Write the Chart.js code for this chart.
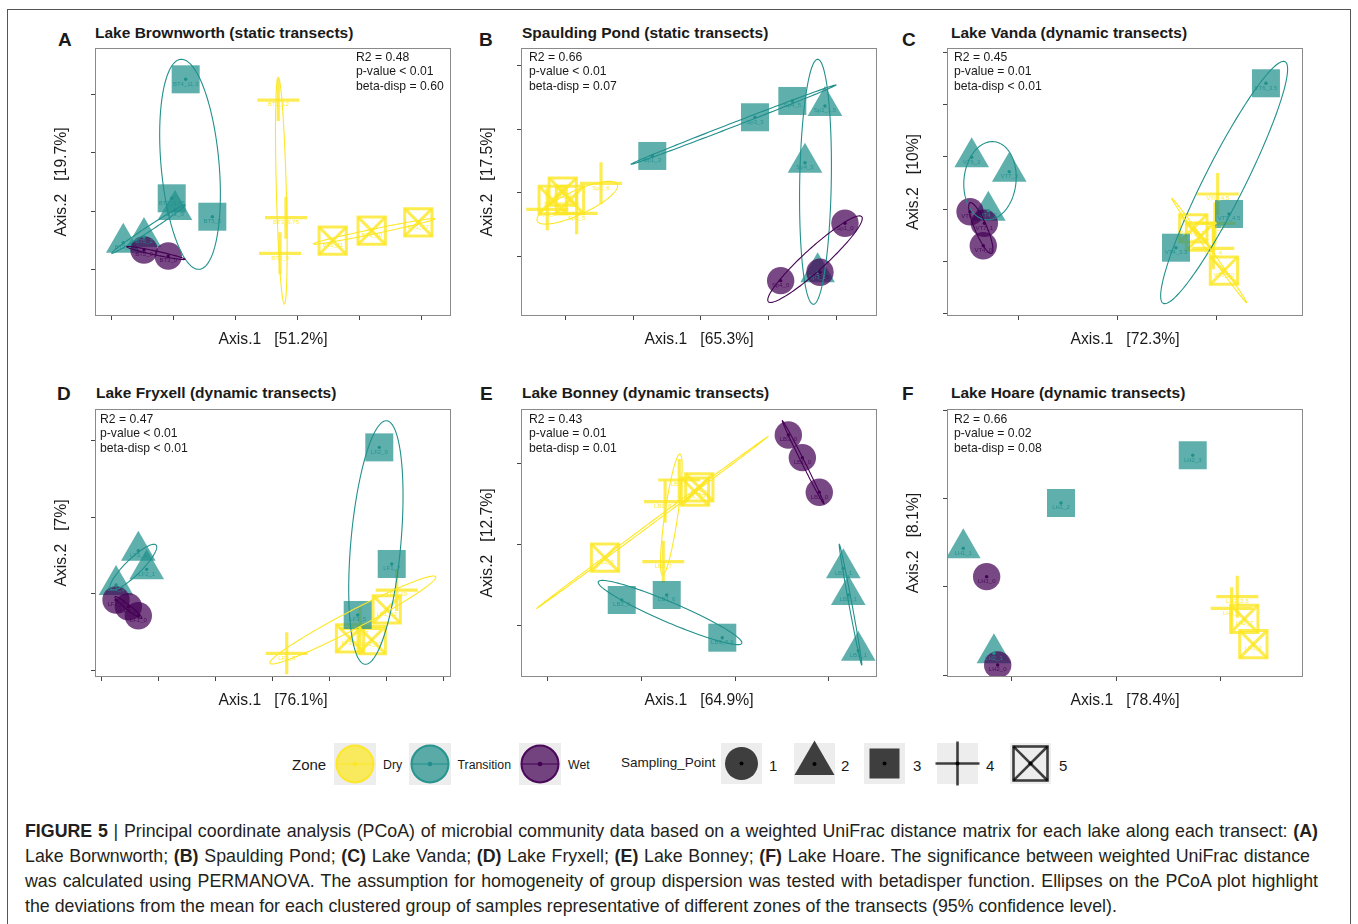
<!DOCTYPE html>
<html lang="en">
<head>
<meta charset="UTF-8">
<title>PCoA of microbial communities by lake</title>
<script src="https://cdn.jsdelivr.net/npm/chart.js@4.4.1/dist/chart.umd.min.js"></script>
<style>
  body {
    margin: 0;
    width: 1358px;
    height: 924px;
    position: relative;
    overflow: hidden;
    background: #fff;
    color: #1a1a1a;
    font-family: "Liberation Sans", Arial, Helvetica, sans-serif;
  }
  .frame { position: absolute; left: 7px; top: 9px; width: 1342px; height: 960px; border: 1px solid #555; }
  .abs { position: absolute; line-height: 1; white-space: nowrap; transform: translateY(-50%); }
  .letter { font-weight: bold; font-size: 19px; }
  .title { font-weight: bold; font-size: 15.5px; }
  .stats { position: absolute; font-size: 12.2px; line-height: 14.4px; white-space: nowrap; }
  canvas.panel { position: absolute; width: 416px; height: 308px; }
  svg.key { position: absolute; overflow: visible; }
  .cap {
    position: absolute; left: 25px; line-height: 1; font-size: 17.8px; color: #231f20;
    transform: translateY(-50%); text-align: justify; text-align-last: justify;
  }
  .cap.last { text-align-last: left; }
</style>
</head>
<body>
<div class="frame"></div>

<!-- panel headings -->
<div class="abs letter" style="left:58px; top:38.5px">A</div>
<div class="abs title" style="left:95px; top:33px">Lake Brownworth (static transects)</div>
<div class="abs letter" style="left:479px; top:38.5px">B</div>
<div class="abs title" style="left:522px; top:33px">Spaulding Pond (static transects)</div>
<div class="abs letter" style="left:902px; top:38.5px">C</div>
<div class="abs title" style="left:951px; top:33px">Lake Vanda (dynamic transects)</div>
<div class="abs letter" style="left:57px; top:393px">D</div>
<div class="abs title" style="left:96px; top:393px">Lake Fryxell (dynamic transects)</div>
<div class="abs letter" style="left:480px; top:393px">E</div>
<div class="abs title" style="left:522px; top:393px">Lake Bonney (dynamic transects)</div>
<div class="abs letter" style="left:902px; top:393px">F</div>
<div class="abs title" style="left:951px; top:393px">Lake Hoare (dynamic transects)</div>

<canvas class="panel" id="cA" width="416" height="308" style="left:40px; top:43px"></canvas>
<canvas class="panel" id="cB" width="416" height="308" style="left:466px; top:43px"></canvas>
<canvas class="panel" id="cC" width="416" height="308" style="left:892px; top:43px"></canvas>
<canvas class="panel" id="cD" width="416" height="308" style="left:40px; top:404px"></canvas>
<canvas class="panel" id="cE" width="416" height="308" style="left:466px; top:404px"></canvas>
<canvas class="panel" id="cF" width="416" height="308" style="left:892px; top:404px"></canvas>

<div class="stats" id="sA" style="left:356px; top:50px"></div>
<div class="stats" id="sB" style="left:529px; top:50px"></div>
<div class="stats" id="sC" style="left:954px; top:50px"></div>
<div class="stats" id="sD" style="left:100px; top:412px"></div>
<div class="stats" id="sE" style="left:529px; top:412px"></div>
<div class="stats" id="sF" style="left:954px; top:412px"></div>

<!-- legend -->
<div class="abs" style="left:292px; top:764px; font-size:15px">Zone</div>
<div id="zoneKeys"></div>
<div class="abs" style="left:621px; top:763px; font-size:13.5px">Sampling_Point</div>
<div id="shapeKeys"></div>

<!-- caption -->
<div class="cap" style="top:832px; width:1293px"><b>FIGURE 5</b> | Principal coordinate analysis (PCoA) of microbial community data based on a weighted UniFrac distance matrix for each lake along each transect: <b>(A)</b></div>
<div class="cap" style="top:857px; width:1285px">Lake Borwnworth; <b>(B)</b> Spaulding Pond; <b>(C)</b> Lake Vanda; <b>(D)</b> Lake Fryxell; <b>(E)</b> Lake Bonney; <b>(F)</b> Lake Hoare. The significance between weighted UniFrac distance</div>
<div class="cap" style="top:882px; width:1293px">was calculated using PERMANOVA. The assumption for homogeneity of group dispersion was tested with betadisper function. Ellipses on the PCoA plot highlight</div>
<div class="cap last" style="top:907px; width:1293px">the deviations from the mean for each clustered group of samples representative of different zones of the transects (95% confidence level).</div>

<script>
// ---------- shared ----------
const zoneNames = ['Dry', 'Transition', 'Wet'];
const samplingPoints = ['1', '2', '3', '4', '5'];
// sampling point 1..5 -> zone
const pointZone = ['wet', 'transition', 'transition', 'dry', 'dry'];
const ZONE_RGB = { dry: '253,231,37', transition: '33,144,140', wet: '68,1,84' };

// ellipse rows: zone, centre x/y, end of first semi-axis x/y, end of second semi-axis x/y

// ---------- A: Lake Brownworth ----------
const bwXTicks = [-0.2, -0.1, 0, 0.1, 0.2, 0.3];
const bwYTicks = [-0.1, 0, 0.1, 0.2];
const bwXRange = [-0.2259, 0.3473];
const bwYRange = [-0.1807, 0.2806];
const bwP1 = [{x: -0.147, y: -0.0671, id: 'BT5_0'}, {x: -0.1079, y: -0.0775, id: 'BT3_0'}];
const bwP2 = [{x: -0.0971, y: 0.0017, id: 'BT1_9'}, {x: -0.147, y: -0.0448, id: 'BT5_2'}, {x: -0.1804, y: -0.0546, id: 'BT3_2'}];
const bwP3 = [{x: -0.0799, y: 0.2267, id: 'BT4_11.3'}, {x: -0.1024, y: 0.0219, id: 'BT1_3.75'}, {x: -0.037, y: -0.0098, id: 'BT5_5'}];
const bwP4 = [{x: 0.0692, y: 0.191, id: 'BT1_12'}, {x: 0.0816, y: -0.0115, id: 'BT3_6.75'}, {x: 0.072, y: -0.0728, id: 'BT5_8'}];
const bwP5 = [{x: 0.1568, y: -0.0511, id: 'BT5_11'}, {x: 0.2196, y: -0.0339, id: 'BT3_10'}, {x: 0.2947, y: -0.0194, id: 'BT1_17'}];
const bwEllipses = [
  ['transition', -0.0729, 0.0804, -0.0879, 0.2611, -0.0264, 0.0849],
  ['transition', -0.14, -0.0312, -0.081, 0.0103, -0.1378, -0.0348],
  ['wet', -0.1279, -0.0723, -0.081, -0.0831, -0.1286, -0.0756],
  ['dry', 0.0741, 0.035, 0.0692, 0.2301, 0.0821, 0.0352],
  ['dry', 0.2236, -0.035, 0.3216, -0.0133, 0.2244, -0.0392]
];
const bwStats = ['R2 = 0.48', 'p-value < 0.01', 'beta-disp = 0.60'];
const bwAxes = ['Axis.1   [51.2%]', 'Axis.2   [19.7%]'];

// ---------- B: Spaulding Pond ----------
const spXTicks = [-0.2, -0.1, 0, 0.1, 0.2];
const spYTicks = [-0.1, 0, 0.1, 0.2];
const spXRange = [-0.2657, 0.2598];
const spYRange = [-0.1944, 0.2281];
const spP1 = [{x: 0.2125, y: -0.0482, id: 'Sp1_0'}, {x: 0.1756, y: -0.1255, id: 'Sp3_0'}, {x: 0.1176, y: -0.1387, id: 'Sp4_0'}];
const spP2 = [{x: 0.183, y: 0.1367, id: 'Sp1_1.5'}, {x: 0.1535, y: 0.0473, id: 'Sp4_3'}, {x: 0.1722, y: -0.1255, id: 'Sp3_1'}];
const spP3 = [{x: -0.0719, y: 0.0579, id: 'Sp1_3'}, {x: 0.0797, y: 0.1189, id: 'Sp3_3'}, {x: 0.1348, y: 0.1446, id: 'Sp4_5'}];
const spP4 = [{x: -0.1476, y: 0.0148, id: 'Sp1_6'}, {x: -0.1835, y: -0.0325, id: 'Sp3_5'}, {x: -0.2269, y: -0.0262, id: 'Sp4_6'}];
const spP5 = [{x: -0.2041, y: 0.0016, id: 'Sp1_9'}, {x: -0.2189, y: -0.0115, id: 'Sp3_8'}, {x: -0.1934, y: -0.0115, id: 'Sp4_9'}];
const spEllipses = [
  ['transition', 0.048, 0.1073, 0.1993, 0.1698, 0.049, 0.1044],
  ['transition', 0.169, 0.0172, 0.1722, 0.2103, 0.1923, 0.0167],
  ['wet', 0.1683, -0.1048, 0.2372, -0.0378, 0.1792, -0.1176],
  ['dry', -0.1826, -0.0158, -0.1235, 0.0132, -0.1752, -0.033]
];
const spStats = ['R2 = 0.66', 'p-value < 0.01', 'beta-disp = 0.07'];
const spAxes = ['Axis.1   [65.3%]', 'Axis.2   [17.5%]'];

// ---------- C: Lake Vanda ----------
const vaXTicks = [-0.1, 0, 0.1];
const vaYTicks = [-0.2, -0.1, 0, 0.1, 0.2, 0.3];
const vaXRange = [-0.1723, 0.1879];
const vaYRange = [-0.2039, 0.3082];
const vaP1 = [{x: -0.149, y: -0.0046, id: 'VT6_0'}, {x: -0.1345, y: -0.0268, id: 'VT7_1'}, {x: -0.1356, y: -0.0696, id: 'VT4_0'}];
const vaP2 = [{x: -0.1473, y: 0.0994, id: 'VT6_2'}, {x: -0.1093, y: 0.0719, id: 'VT7_3'}, {x: -0.1305, y: -0.0027, id: 'VT4_2'}];
const vaP3 = [{x: 0.1504, y: 0.2408, id: 'VT6_3.5'}, {x: 0.113, y: -0.009, id: 'VT7_4.5'}, {x: 0.0594, y: -0.0734, id: 'VT4_3.3'}];
const vaP4 = [{x: 0.1016, y: 0.0292, id: 'VT6_4.5'}, {x: 0.0988, y: -0.0268, id: 'VT7_5'}, {x: 0.0971, y: -0.0745, id: 'VT4_4'}];
const vaP5 = [{x: 0.0769, y: -0.0363, id: 'VT4_6.3'}, {x: 0.0837, y: -0.0524, id: 'VT7_7'}, {x: 0.1079, y: -0.1173, id: 'VT6_10'}];
const vaEllipses = [
  ['transition', -0.1288, 0.0547, -0.1247, 0.1292, -0.1026, 0.0496],
  ['wet', -0.1381, -0.0357, -0.149, 0.0126, -0.1325, -0.0311],
  ['transition', 0.1081, 0.0512, 0.1697, 0.2821, 0.1263, 0.034],
  ['dry', 0.093, -0.0787, 0.1309, -0.1785, 0.0914, -0.081]
];
const vaStats = ['R2 = 0.45', 'p-value = 0.01', 'beta-disp < 0.01'];
const vaAxes = ['Axis.1   [72.3%]', 'Axis.2   [10%]'];

// ---------- D: Lake Fryxell ----------
const fyXTicks = [-0.3, -0.2, -0.1, 0, 0.1, 0.2, 0.3];
const fyYTicks = [-0.1, 0, 0.1, 0.2];
const fyXRange = [-0.3111, 0.3135];
const fyYRange = [-0.109, 0.2417];
const fyP1 = [{x: -0.2742, y: -0.0082, id: 'LF2_0'}, {x: -0.2526, y: -0.017, id: 'LF3_0'}, {x: -0.2351, y: -0.0288, id: 'LF1_0'}];
const fyP2 = [{x: -0.2351, y: 0.0563, id: 'LF3_1'}, {x: -0.2204, y: 0.0319, id: 'LF2_1'}, {x: -0.2742, y: 0.0114, id: 'LF1_1'}];
const fyP3 = [{x: 0.1877, y: 0.1915, id: 'LF2_9'}, {x: 0.2095, y: 0.0389, id: 'LF1_7'}, {x: 0.1498, y: -0.0279, id: 'LF3_5'}];
const fyP4 = [{x: 0.0253, y: -0.078, id: 'LF1_8'}, {x: 0.2182, y: 0.0048, id: 'LF2_10'}, {x: 0.1539, y: -0.0453, id: 'LF3_7'}];
const fyP5 = [{x: 0.2007, y: -0.0204, id: 'LF1_12'}, {x: 0.1363, y: -0.0584, id: 'LF3_9'}, {x: 0.1744, y: -0.0606, id: 'LF2_13'}];
const fyEllipses = [
  ['transition', -0.2439, 0.0347, -0.204, 0.0637, -0.234, 0.0272],
  ['wet', -0.2525, -0.0181, -0.2291, -0.0322, -0.2553, -0.0205],
  ['transition', 0.1817, 0.067, 0.2007, 0.2263, 0.2254, 0.0641],
  ['dry', 0.1413, -0.0344, 0.2867, 0.0222, 0.1486, -0.0449]
];
const fyStats = ['R2 = 0.47', 'p-value < 0.01', 'beta-disp < 0.01'];
const fyAxes = ['Axis.1   [76.1%]', 'Axis.2   [7%]'];

// ---------- E: Lake Bonney ----------
const boXTicks = [-0.2, -0.1, 0, 0.1];
const boYTicks = [-0.1, 0, 0.1];
const boXRange = [-0.2288, 0.1518];
const boYRange = [-0.1634, 0.1666];
const boP1 = [{x: 0.057, y: 0.1346, id: 'LB3_0'}, {x: 0.072, y: 0.1067, id: 'LB1_0'}, {x: 0.0901, y: 0.064, id: 'LB2_0'}];
const boP2 = [{x: 0.1158, y: -0.0296, id: 'LB1_1'}, {x: 0.1211, y: -0.0624, id: 'LB2_1'}, {x: 0.1318, y: -0.131, id: 'LB3_1'}];
const boP3 = [{x: -0.1211, y: -0.0686, id: 'LB2_6'}, {x: -0.073, y: -0.0624, id: 'LB1_6'}, {x: -0.0136, y: -0.115, id: 'LB3_5.9'}];
const boP4 = [{x: -0.0596, y: 0.0792, id: 'LB2_7'}, {x: -0.0748, y: 0.0525, id: 'LB1_8.5'}, {x: -0.0767, y: -0.0214, id: 'LB3_7'}];
const boP5 = [{x: -0.0382, y: 0.0702, id: 'LB2_9'}, {x: -0.139, y: -0.0165, id: 'LB3_9'}, {x: -0.0428, y: 0.0648, id: 'LB1_10'}];
const boEllipses = [
  ['wet', 0.0729, 0.1009, 0.0952, 0.0496, 0.0714, 0.1001],
  ['transition', 0.1235, -0.0743, 0.1355, -0.1486, 0.1219, -0.0746],
  ['transition', -0.0695, -0.084, 0.0072, -0.1219, -0.0738, -0.0953],
  ['dry', -0.0681, 0.0367, -0.0588, 0.1112, -0.0612, 0.0356],
  ['dry', -0.0885, 0.0268, 0.035, 0.1325, -0.0878, 0.0256]
];
const boStats = ['R2 = 0.43', 'p-value = 0.01', 'beta-disp = 0.01'];
const boAxes = ['Axis.1   [64.9%]', 'Axis.2   [12.7%]'];

// ---------- F: Lake Hoare ----------
const hoXTicks = [-0.1, 0, 0.1];
const hoYTicks = [-0.1, 0, 0.1, 0.2];
const hoXRange = [-0.1623, 0.179];
const hoYRange = [-0.1022, 0.202];
const hoP1 = [{x: -0.1243, y: 0.0117, id: 'LH1_0'}, {x: -0.1137, y: -0.0885, id: 'LH2_0'}];
const hoP2 = [{x: -0.1467, y: 0.0439, id: 'LH1_1'}, {x: -0.1173, y: -0.0753, id: 'LH2_1'}];
const hoP3 = [{x: 0.0733, y: 0.1495, id: 'LH2_3'}, {x: -0.053, y: 0.0953, id: 'LH1_2'}];
const hoP4 = [{x: 0.116, y: -0.011, id: 'LH2_2.5'}, {x: 0.1106, y: -0.0242, id: 'LH1_5'}];
const hoP5 = [{x: 0.1227, y: -0.0363, id: 'LH2_7'}, {x: 0.1314, y: -0.065, id: 'LH1_7'}];
const hoEllipses = [];
const hoStats = ['R2 = 0.66', 'p-value = 0.02', 'beta-disp = 0.08'];
const hoAxes = ['Axis.1   [78.4%]', 'Axis.2   [8.1%]'];

const panels = [
  {canvas: 'cA', stats: 'sA', xTicks: bwXTicks, yTicks: bwYTicks, xRange: bwXRange, yRange: bwYRange, groups: [bwP1, bwP2, bwP3, bwP4, bwP5], ellipses: bwEllipses, text: bwStats, axes: bwAxes},
  {canvas: 'cB', stats: 'sB', xTicks: spXTicks, yTicks: spYTicks, xRange: spXRange, yRange: spYRange, groups: [spP1, spP2, spP3, spP4, spP5], ellipses: spEllipses, text: spStats, axes: spAxes},
  {canvas: 'cC', stats: 'sC', xTicks: vaXTicks, yTicks: vaYTicks, xRange: vaXRange, yRange: vaYRange, groups: [vaP1, vaP2, vaP3, vaP4, vaP5], ellipses: vaEllipses, text: vaStats, axes: vaAxes},
  {canvas: 'cD', stats: 'sD', xTicks: fyXTicks, yTicks: fyYTicks, xRange: fyXRange, yRange: fyYRange, groups: [fyP1, fyP2, fyP3, fyP4, fyP5], ellipses: fyEllipses, text: fyStats, axes: fyAxes},
  {canvas: 'cE', stats: 'sE', xTicks: boXTicks, yTicks: boYTicks, xRange: boXRange, yRange: boYRange, groups: [boP1, boP2, boP3, boP4, boP5], ellipses: boEllipses, text: boStats, axes: boAxes},
  {canvas: 'cF', stats: 'sF', xTicks: hoXTicks, yTicks: hoYTicks, xRange: hoXRange, yRange: hoYRange, groups: [hoP1, hoP2, hoP3, hoP4, hoP5], ellipses: hoEllipses, text: hoStats, axes: hoAxes}
];

const FONT = '"Liberation Sans", Arial, Helvetica, sans-serif';
const rgba = (zone, a) => `rgba(${ZONE_RGB[zone]},${a})`;
const CLEAR = 'rgba(0,0,0,0)';

function pointSets(groups) {
  const [p1, p2, p3, p4, p5] = groups;
  const sets = [];
  // small centre dots, drawn on top
  groups.forEach((pts, i) => {
    sets.push({ data: pts, pointStyle: 'circle', pointRadius: 1.7,
      pointBackgroundColor: rgba(pointZone[i], 1), pointBorderWidth: 0 });
  });
  sets.push({ data: p1, pointStyle: 'circle', pointRadius: 13.7,
    pointBackgroundColor: rgba('wet', 0.72), pointBorderWidth: 0 });
  sets.push({ data: p2, pointStyle: 'triangle', pointRadius: 20,
    pointBackgroundColor: rgba('transition', 0.72), pointBorderWidth: 0 });
  sets.push({ data: p3, pointStyle: 'rect', pointRadius: 19.8,
    pointBackgroundColor: rgba('transition', 0.72), pointBorderWidth: 0 });
  sets.push({ data: p4, pointStyle: 'cross', pointRadius: 21,
    pointBackgroundColor: CLEAR, pointBorderColor: rgba('dry', 0.8), pointBorderWidth: 3.2 });
  // square with an X: outline plus diagonal cross at the same size
  sets.push({ data: p5, pointStyle: 'rect', pointRadius: 19.3,
    pointBackgroundColor: CLEAR, pointBorderColor: rgba('dry', 0.8), pointBorderWidth: 3 });
  sets.push({ data: p5, pointStyle: 'crossRot', pointRadius: 19.3,
    pointBackgroundColor: CLEAR, pointBorderColor: rgba('dry', 0.8), pointBorderWidth: 3 });
  sets.forEach(s => {
    s.clip = 0;
    s.showLine = false;
    s.backgroundColor = s.pointBackgroundColor;
    s.borderColor = s.pointBorderColor || CLEAR;
  });
  return sets;
}

// ellipses, sample ids and the panel border
const overlayPlugin = {
  id: 'overlay',
  afterDatasetsDraw(chart, args, opts) {
    const { ctx, chartArea: ca, scales: { x, y } } = chart;
    ctx.save();
    ctx.beginPath();
    ctx.rect(ca.left, ca.top, ca.right - ca.left, ca.bottom - ca.top);
    ctx.clip();

    ctx.font = '6px ' + FONT;
    ctx.textAlign = 'center';
    ctx.textBaseline = 'middle';
    opts.groups.forEach((pts, i) => {
      ctx.fillStyle = rgba(pointZone[i], 0.85);
      pts.forEach(p => ctx.fillText(p.id, x.getPixelForValue(p.x), y.getPixelForValue(p.y) + 4.6));
    });

    ctx.lineWidth = 1.1;
    for (const [zone, cx, cy, ax, ay, bx, by] of opts.ellipses) {
      ctx.strokeStyle = rgba(zone, 1);
      ctx.beginPath();
      for (let i = 0; i <= 160; i++) {
        const t = (i / 160) * Math.PI * 2;
        const vx = cx + (ax - cx) * Math.cos(t) + (bx - cx) * Math.sin(t);
        const vy = cy + (ay - cy) * Math.cos(t) + (by - cy) * Math.sin(t);
        const px = x.getPixelForValue(vx), py = y.getPixelForValue(vy);
        if (i === 0) ctx.moveTo(px, py); else ctx.lineTo(px, py);
      }
      ctx.closePath();
      ctx.stroke();
    }
    ctx.restore();
  },
  afterDraw(chart) {
    const { ctx, chartArea: ca } = chart;
    ctx.save();
    ctx.strokeStyle = '#8a8a8a';
    ctx.lineWidth = 1;
    ctx.strokeRect(ca.left + 0.5, ca.top + 0.5, ca.right - ca.left - 1, ca.bottom - ca.top - 1);
    ctx.restore();
  }
};

function axisOptions(range, ticks, title, horizontal) {
  return {
    type: 'linear',
    min: range[0],
    max: range[1],
    afterBuildTicks: axis => { axis.ticks = ticks.map(v => ({ value: v })); },
    afterFit: axis => { if (horizontal) axis.height = 35; else axis.width = 55; },
    grid: { drawOnChartArea: false, drawTicks: true, tickLength: 4, color: '#444', lineWidth: 1 },
    border: { display: false },
    ticks: { display: false },
    title: {
      display: true,
      text: title,
      color: '#1a1a1a',
      font: { family: FONT, size: 15.7, lineHeight: 1.2 },
      padding: horizontal ? { top: 0, bottom: 1.6 } : { top: 12.3, bottom: 0 }
    }
  };
}

panels.forEach(p => {
  document.getElementById(p.stats).innerHTML = p.text.join('<br>');
  new Chart(document.getElementById(p.canvas), {
    type: 'scatter',
    data: { datasets: pointSets(p.groups) },
    options: {
      responsive: false,
      animation: false,
      events: [],
      layout: { autoPadding: false, padding: { left: 0, right: 5, top: 5, bottom: 0 } },
      plugins: {
        legend: { display: false },
        tooltip: { enabled: false },
        colors: { enabled: false },
        overlay: { groups: p.groups, ellipses: p.ellipses }
      },
      scales: {
        x: axisOptions(p.xRange, p.xTicks, p.axes[0], true),
        y: axisOptions(p.yRange, p.yTicks, p.axes[1], false)
      }
    },
    plugins: [overlayPlugin]
  });
});

// ---------- legend ----------
const zoneKeyX = [334, 409, 519];
const zoneLabelX = [383, 457.5, 568];
const zoneKeyZone = ['dry', 'transition', 'wet'];
let html = '';
zoneNames.forEach((name, i) => {
  const z = zoneKeyZone[i];
  html += `<svg class="key" style="left:${zoneKeyX[i]}px; top:743px" width="42" height="42">
    <rect x="0" y="0" width="42" height="42" fill="#ededed"/>
    <circle cx="21" cy="21" r="18.5" fill="${rgba(z, 0.72)}" stroke="${rgba(z, 0.95)}" stroke-width="2"/>
    <line x1="2.5" y1="21" x2="39.5" y2="21" stroke="${rgba(z, 1)}" stroke-width="1.2"/>
    <circle cx="21" cy="21" r="2.3" fill="${rgba(z, 1)}"/></svg>
    <div class="abs" style="left:${zoneLabelX[i]}px; top:765px; font-size:12.3px">${name}</div>`;
});
document.getElementById('zoneKeys').innerHTML = html;

const shapeKeyX = [721, 794, 864, 937, 1010];
const shapeLabelX = [769, 841, 913, 986, 1059];
const DARK = 'rgba(0,0,0,0.74)';
const glyphs = [
  `<circle cx="20.5" cy="20.5" r="16.5" fill="${DARK}"/>`,
  `<polygon points="20.5,-2.5 40.5,32 0.5,32" fill="${DARK}"/>`,
  `<rect x="5.5" y="5.5" width="30" height="30" fill="${DARK}"/>`,
  `<line x1="-1.5" y1="20.5" x2="42.5" y2="20.5" stroke="${DARK}" stroke-width="2.6"/>
   <line x1="20.5" y1="-1.5" x2="20.5" y2="42.5" stroke="${DARK}" stroke-width="2.6"/>`,
  `<rect x="3.5" y="3.5" width="34" height="34" fill="none" stroke="${DARK}" stroke-width="2.6"/>
   <line x1="3.5" y1="3.5" x2="37.5" y2="37.5" stroke="${DARK}" stroke-width="2.6"/>
   <line x1="37.5" y1="3.5" x2="3.5" y2="37.5" stroke="${DARK}" stroke-width="2.6"/>`
];
html = '';
samplingPoints.forEach((name, i) => {
  const dotY = i === 1 ? 21 : 20.5;
  html += `<svg class="key" style="left:${shapeKeyX[i]}px; top:743px" width="41" height="41">
    <rect x="0" y="0" width="41" height="41" fill="#ededed"/>${glyphs[i]}
    <circle cx="20.5" cy="${dotY}" r="2" fill="#000"/></svg>
    <div class="abs" style="left:${shapeLabelX[i]}px; top:765px; font-size:15px">${name}</div>`;
});
document.getElementById('shapeKeys').innerHTML = html;
</script>
</body>
</html>
